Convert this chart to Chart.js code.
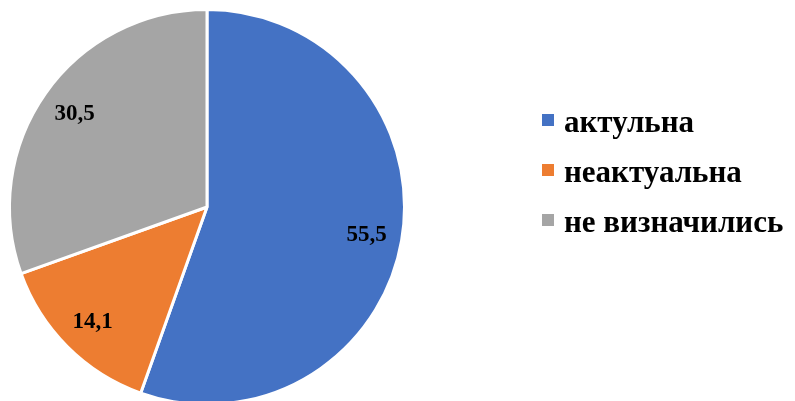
<!DOCTYPE html>
<html lang="uk">
<head>
  <meta charset="UTF-8">
  <title>Актуальність</title>
  <script src="https://cdn.jsdelivr.net/npm/chart.js"></script>
  <style>
    html, body {
      margin: 0;
      padding: 0;
      background: #fff;
      overflow: hidden;
    }
    #wrap {
      width: 795px;
      height: 401px;
      overflow: hidden;
      position: relative;
    }
    #pie {
      position: absolute;
      left: 0;
      top: 0;
    }
  </style>
</head>
<body>
  <div id="wrap">
    <canvas id="pie" width="795" height="414"></canvas>
  </div>

  <script>
    // дані діаграми
    const categories = ['актульна', 'неактуальна', 'не визначились'];
    const values = [55.5, 14.1, 30.5];
    const valueLabels = ['55,5', '14,1', '30,5'];
    const colors = ['#4472C4', '#ED7D31', '#A5A5A5'];

    const serif = '"Liberation Serif", "Times New Roman", serif';

    // підписи значень всередині секторів
    const sliceLabels = {
      id: 'sliceLabels',
      afterDatasetsDraw(chart) {
        const ctx = chart.ctx;
        const arcs = chart.getDatasetMeta(0).data;
        ctx.save();
        ctx.font = 'bold 23px ' + serif;
        ctx.fillStyle = '#000';
        ctx.textAlign = 'center';
        ctx.textBaseline = 'middle';
        arcs.forEach((arc, i) => {
          const mid = (arc.startAngle + arc.endAngle) / 2;
          const r = arc.outerRadius * 0.82;
          ctx.fillText(valueLabels[i], arc.x + Math.cos(mid) * r, arc.y + Math.sin(mid) * r);
        });
        ctx.restore();
      }
    };

    // легенда праворуч
    const sideLegend = {
      id: 'sideLegend',
      afterDraw(chart) {
        const ctx = chart.ctx;
        ctx.save();
        ctx.font = 'bold 31px ' + serif;
        ctx.textBaseline = 'alphabetic';
        categories.forEach((name, i) => {
          const y = 132 + i * 50;
          ctx.fillStyle = colors[i];
          ctx.fillRect(542, y - 18, 12, 12);
          ctx.fillStyle = '#000';
          ctx.fillText(name, 564, y);
        });
        ctx.restore();
      }
    };

    new Chart(document.getElementById('pie'), {
      type: 'pie',
      data: {
        labels: categories,
        datasets: [{
          data: values,
          backgroundColor: colors,
          borderColor: '#fff',
          borderWidth: 3
        }]
      },
      options: {
        responsive: false,
        animation: false,
        layout: {
          padding: { left: 8, right: 389, top: 8, bottom: 8 }
        },
        plugins: {
          legend: { display: false },
          tooltip: { enabled: false }
        }
      },
      plugins: [sliceLabels, sideLegend]
    });
  </script>
</body>
</html>
